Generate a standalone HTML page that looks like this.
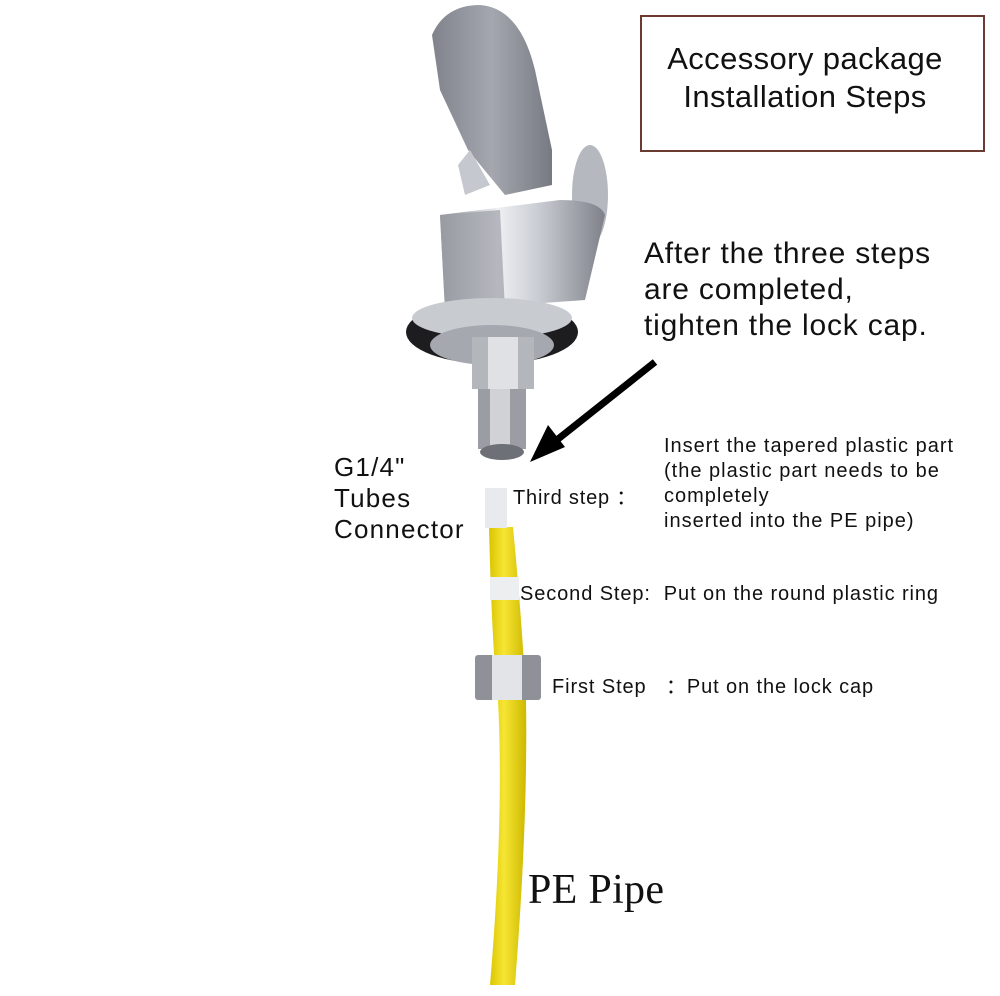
<!DOCTYPE html>
<html><head><style>
body{margin:0;background:#fff;width:1000px;height:996px;overflow:hidden;position:relative;font-family:"Liberation Sans","DejaVu Sans",sans-serif}
.t{position:absolute;color:#111;white-space:nowrap}
</style></head><body>
<svg width="1000" height="996" style="position:absolute;left:0;top:0">
<defs>
<linearGradient id="chrome" x1="0" x2="1"><stop offset="0" stop-color="#8c8f96"/><stop offset=".35" stop-color="#eef0f3"/><stop offset=".6" stop-color="#c9ccd2"/><stop offset="1" stop-color="#7e8189"/></linearGradient>
<linearGradient id="hand" x1="0" x2="1"><stop offset="0" stop-color="#80838c"/><stop offset=".5" stop-color="#a4a7ae"/><stop offset="1" stop-color="#777a82"/></linearGradient>
<linearGradient id="yel" x1="0" x2="1"><stop offset="0" stop-color="#d9c400"/><stop offset=".4" stop-color="#f6e633"/><stop offset="1" stop-color="#cdb800"/></linearGradient>
</defs>
<ellipse cx="590" cy="195" rx="18" ry="50" fill="#b5b8be"/>
<path d="M440 215 L560 200 Q600 200 605 215 L585 300 L445 310 Z" fill="url(#chrome)"/>
<path d="M440 215 L500 210 L505 310 L445 310 Z" fill="#9da0a7" opacity=".7"/>
<path d="M432 35 Q445 5 480 5 Q520 8 535 70 L552 150 L552 185 L505 195 L468 150 L440 90 Z" fill="url(#hand)"/>
<path d="M458 165 L470 150 L490 185 L465 195 Z" fill="#c5c8ce"/>
<ellipse cx="492" cy="332" rx="86" ry="32" fill="#1d1d1f"/>
<ellipse cx="492" cy="318" rx="80" ry="20" fill="#c8cbd0"/>
<ellipse cx="492" cy="345" rx="62" ry="20" fill="#a5a8ae"/>
<rect x="472" y="337" width="62" height="52" fill="#b3b6bb"/>
<rect x="488" y="337" width="30" height="52" fill="#dfe1e4"/>
<rect x="478" y="389" width="48" height="60" fill="#9a9da3"/>
<rect x="490" y="389" width="20" height="60" fill="#d0d2d6"/>
<ellipse cx="502" cy="452" rx="22" ry="8" fill="#6e7077"/>
<line x1="655" y1="362" x2="548" y2="447" stroke="#000" stroke-width="7"/>
<polygon points="530,462 548,425 565,447" fill="#000"/>
<path d="M489 527 Q492 650 498 700 Q504 820 490 985 L515 985 Q528 820 526 700 Q522 620 513 527 Z" fill="url(#yel)"/>
<rect x="485" y="488" width="22" height="40" fill="#e8eaee"/>
<rect x="490" y="577" width="29" height="23" fill="#eceef0"/>
<rect x="475" y="655" width="66" height="45" rx="3" fill="#8f9199"/>
<rect x="492" y="655" width="30" height="45" fill="#e3e4e8"/>
<rect x="641" y="16" width="343" height="135" fill="#fff" stroke="#6b3a30" stroke-width="2"/>
</svg>
<div class="t" style="left:655px;top:40px;font-size:31px;letter-spacing:.4px;line-height:38px;text-align:center;width:300px">Accessory package<br>Installation Steps</div>
<div class="t" style="left:644px;top:236px;font-size:30px;letter-spacing:.8px;line-height:36px">After the three steps<br>are completed,<br>tighten the lock cap.</div>
<div class="t" style="left:334px;top:452px;font-size:26px;letter-spacing:1.2px;line-height:31px">G1/4"<br>Tubes<br>Connector</div>
<div class="t" style="left:513px;top:481px;font-size:20px;letter-spacing:.8px">Third step ：</div>
<div class="t" style="left:664px;top:434px;font-size:20px;letter-spacing:1px;line-height:25px">Insert the tapered plastic part<br>(the plastic part needs to be<br>completely<br>inserted into the PE pipe)</div>
<div class="t" style="left:520px;top:583px;font-size:20px;letter-spacing:.9px">Second Step: &nbsp;Put on the round plastic ring</div>
<div class="t" style="left:552px;top:670px;font-size:20px;letter-spacing:.9px">First Step &nbsp; ：Put on the lock cap</div>
<div class="t" style="left:528px;top:866px;font-size:42px;letter-spacing:.3px;font-family:'Liberation Serif',serif">PE Pipe</div>
</body></html>
